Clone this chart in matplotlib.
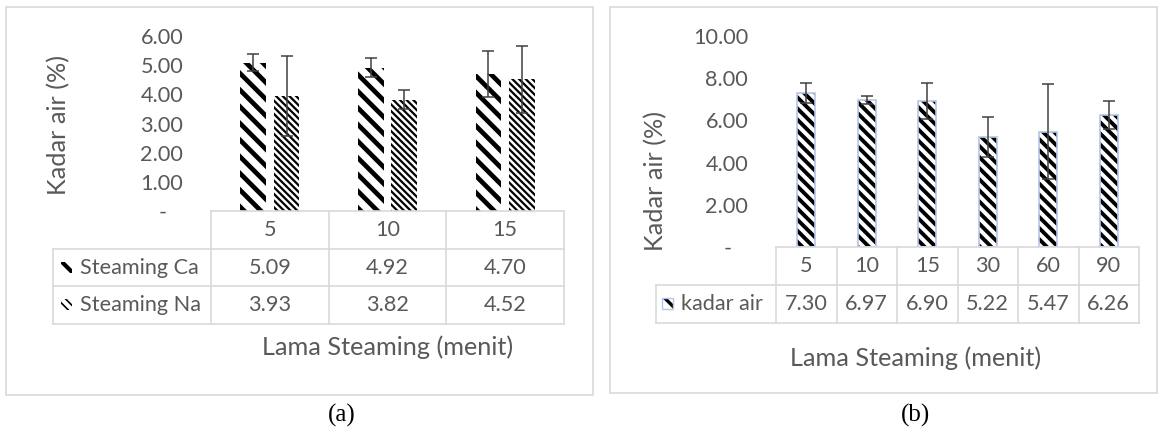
import matplotlib
matplotlib.use('Agg')
import matplotlib.pyplot as plt
from matplotlib.patches import Rectangle
from matplotlib.lines import Line2D
from matplotlib.transforms import blended_transform_factory
import numpy as np

# data (a)
cat_a = ['5', '10', '15']
steam_ca = [5.09, 4.92, 4.70]
steam_ca_err = [0.30, 0.31, 0.80]
steam_na = [3.93, 3.82, 4.52]
steam_na_err = [1.37, 0.33, 1.15]
series_a = ['Steaming Ca', 'Steaming Na']

# data (b)
cat_b = ['5', '10', '15', '30', '60', '90']
kadar = [7.30, 6.97, 6.90, 5.22, 5.47, 6.26]
kadar_err = [0.47, 0.18, 0.85, 0.95, 2.25, 0.68]
series_b = ['kadar air']

W, H = 1161, 437
TXT = '#595959'
GRID = '#d9d9d9'
FONT = 'Lato'
FS = 15.6      # ticks / table
FS_T = 18.2    # axis titles

fig = plt.figure(figsize=(W / 100, H / 100), dpi=100)


def fx(px):
    return px / W


def fy(py):
    return 1 - py / H


def line(x0, y0, x1, y1):
    fig.add_artist(Line2D([fx(x0), fx(x1)], [fy(y0), fy(y1)], color=GRID, lw=1.2))


def box(x0, y0, x1, y1):
    fig.add_artist(Rectangle((fx(x0), fy(y1)), fx(x1) - fx(x0), fy(y0) - fy(y1),
                             fill=False, edgecolor=GRID, lw=1.2))


def hatch_lw(patches, lw):
    for p in patches:
        if hasattr(p, 'set_hatch_linewidth'):
            p.set_hatch_linewidth(lw)


def style_axis(ax, ymax, step):
    ax.set_ylim(0, ymax)
    ticks = np.arange(0, ymax + 0.01, step)
    ax.set_yticks(ticks)
    ax.set_yticklabels(['-   ' if t == 0 else '%.2f' % t for t in ticks],
                       fontsize=FS, color=TXT, family=FONT)
    ax.tick_params(axis='y', length=0, pad=20)
    ax.set_xticks([])
    for s in ax.spines.values():
        s.set_visible(False)
    ax.patch.set_alpha(0)


def table(ax, cats, rows, names, left_px, top_px, row_h, keys):
    tr = blended_transform_factory(ax.transData, fig.transFigure)
    n = len(cats)
    x_lo, x_hi = ax.get_xlim()
    p0 = ax.transData.transform((x_lo, 0))[0]
    p1 = ax.transData.transform((x_hi, 0))[0]
    edges = np.linspace(p0, p1, n + 1)
    ys = [top_px + row_h * k for k in range(len(rows) + 2)]
    line(p0, ys[0], p1, ys[0])
    for y in ys[1:]:
        line(left_px, y, p1, y)
    for e in edges:
        line(e, ys[0], e, ys[-1])
    line(left_px, ys[1], left_px, ys[-1])
    for i, c in enumerate(cats):
        ax.text(i, fy((ys[0] + ys[1]) / 2), c, transform=tr, ha='center', va='center',
                fontsize=FS, color=TXT, family=FONT)
    for r, vals in enumerate(rows):
        yc = (ys[r + 1] + ys[r + 2]) / 2
        for i, v in enumerate(vals):
            ax.text(i, fy(yc), '%.2f' % v, transform=tr, ha='center', va='center',
                    fontsize=FS, color=TXT, family=FONT)
        kx, hatch, kw, ec = keys[r]
        key = Rectangle((fx(kx), fy(yc + 5)), fx(11), 11 / H, facecolor='white',
                        edgecolor='black', lw=0, hatch=hatch)
        fig.add_artist(key)
        hatch_lw([key], kw)
        if ec:
            fig.add_artist(Rectangle((fx(kx), fy(yc + 5)), fx(11), 11 / H, fill=False,
                                     edgecolor=ec, lw=1))
        fig.text(fx(kx + 19), fy(yc), names[r], ha='left', va='center',
                 fontsize=FS, color=TXT, family=FONT)


# ---------- panel (a)
box(6, 7, 593, 395)
ax1 = fig.add_axes([fx(211), fy(211), fx(564) - fx(211), fy(36) - fy(211)])
x = np.arange(len(cat_a))
bw = 0.22
b1 = ax1.bar(x - 0.142, steam_ca, bw, color='white', edgecolor='black', lw=0, hatch='\\\\')
hatch_lw(b1, 3.4)
b2 = ax1.bar(x + 0.142, steam_na, bw, color='white', edgecolor='black', lw=0,
             hatch='\\\\\\\\\\')
hatch_lw(b2, 1.6)
ax1.errorbar(x - 0.142, steam_ca, yerr=steam_ca_err, fmt='none', ecolor='#404040',
             elinewidth=1.1, capsize=4, capthick=1.1)
ax1.errorbar(x + 0.142, steam_na, yerr=steam_na_err, fmt='none', ecolor='#404040',
             elinewidth=1.1, capsize=4, capthick=1.1)
ax1.set_xlim(-0.5, len(cat_a) - 0.5)
style_axis(ax1, 6, 1)
table(ax1, cat_a, [steam_ca, steam_na], series_a, 53, 211, 37.7,
      [(61, '\\\\', 3.0, None), (61, '\\\\\\\\', 1.2, None)])
fig.text(fx(59), fy(125), 'Kadar air (%)', rotation=90, ha='center', va='center',
         fontsize=FS_T, color=TXT, family=FONT)
fig.text(fx(388), fy(347), 'Lama Steaming (menit)', ha='center', va='center',
         fontsize=FS_T, color=TXT, family=FONT)
fig.text(fx(342), fy(415), '(a)', ha='center', va='center', fontsize=18,
         family='Liberation Serif')

# ---------- panel (b)
box(610, 7, 1157, 393)
ax2 = fig.add_axes([fx(776), fy(247), fx(1139) - fx(776), fy(36) - fy(247)])
xb = np.arange(len(cat_b))
b3 = ax2.bar(xb, kadar, 0.30, color='white', edgecolor='black', lw=0, hatch='\\\\\\')
hatch_lw(b3, 2.8)
ax2.bar(xb, kadar, 0.30, fill=False, edgecolor='#b4c7e7', lw=1.2)
ax2.errorbar(xb, kadar, yerr=kadar_err, fmt='none', ecolor='#404040',
             elinewidth=1.1, capsize=4, capthick=1.1)
ax2.set_xlim(-0.5, len(cat_b) - 0.5)
style_axis(ax2, 10, 2)
table(ax2, cat_b, [kadar], series_b, 656, 247, 37.8,
      [(662, '\\\\', 2.4, '#b4c7e7')])
fig.text(fx(656), fy(181), 'Kadar air (%)', rotation=90, ha='center', va='center',
         fontsize=FS_T, color=TXT, family=FONT)
fig.text(fx(916), fy(358), 'Lama Steaming (menit)', ha='center', va='center',
         fontsize=FS_T, color=TXT, family=FONT)
fig.text(fx(915), fy(415), '(b)', ha='center', va='center', fontsize=18,
         family='Liberation Serif')

fig.savefig('out.png', dpi=100)
